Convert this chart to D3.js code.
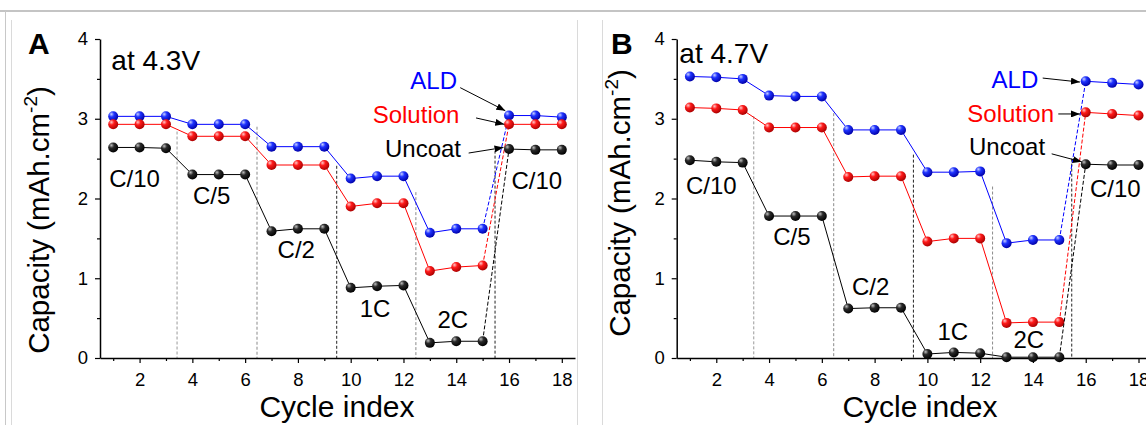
<!DOCTYPE html>
<html>
<head>
<meta charset="utf-8">
<script src="https://cdn.jsdelivr.net/npm/d3@7"></script>
<style>
body { margin: 0; background: #fff; }
svg { display: block; font-family: "Liberation Sans", Arial, sans-serif; }
</style>
</head>
<body>
<svg id="chart" width="1146" height="425"></svg>
<script>
// values
var cycles = [1, 2, 3, 4, 5, 6, 7, 8, 9, 10, 11, 12, 13, 14, 15, 16, 17, 18]

var aldA = [3.03, 3.03, 3.03, 2.93, 2.93, 2.93, 2.65, 2.65, 2.65, 2.25, 2.28, 2.28, 1.57, 1.62, 1.62, 3.04, 3.04, 3.02]
var solA = [2.93, 2.93, 2.93, 2.78, 2.78, 2.78, 2.42, 2.42, 2.42, 1.90, 1.94, 1.94, 1.09, 1.14, 1.16, 2.93, 2.93, 2.93]
var uncA = [2.64, 2.64, 2.63, 2.30, 2.30, 2.30, 1.59, 1.62, 1.62, 0.88, 0.90, 0.91, 0.19, 0.21, 0.21, 2.62, 2.61, 2.61]

var aldB = [3.53, 3.52, 3.50, 3.29, 3.28, 3.28, 2.86, 2.86, 2.86, 2.33, 2.33, 2.34, 1.44, 1.48, 1.48, 3.47, 3.45, 3.43]
var solB = [3.14, 3.13, 3.11, 2.89, 2.89, 2.89, 2.27, 2.28, 2.28, 1.46, 1.50, 1.50, 0.44, 0.45, 0.45, 3.08, 3.06, 3.04]
var uncB = [2.48, 2.46, 2.45, 1.78, 1.78, 1.78, 0.62, 0.63, 0.63, 0.05, 0.07, 0.06, 0.01, 0.01, 0.01, 2.43, 2.42, 2.42]

var xTicks = [2, 4, 6, 8, 10, 12, 14, 16, 18]
var xMinor = [1, 3, 5, 7, 9, 11, 13, 15, 17]
var yTicks = [0, 1, 2, 3, 4]
var yMinor = [0.5, 1.5, 2.5, 3.5]

// dashed separators between rate steps
var stepX = [3.42, 6.45, 9.47, 12.47, 15.47]
var stepTopA = [2.84, 2.90, 2.41, 2.08, 2.60]
var stepTopB = [3.03, 3.07, 2.55, 2.15, 2.50]
var stepColor = ['#9a9a9a', '#8a8a8a', '#222', '#8a8a8a', '#222']

// rate labels (x, y in data units, text start + baseline)
var rateNames = ['C/10', 'C/5', 'C/2', '1C', '2C', 'C/10']
var rateXA = [0.85, 4.02, 7.23, 10.34, 13.29, 16.09]
var rateYA = [2.15, 1.93, 1.25, 0.52, 0.37, 2.12]
var rateXB = [0.85, 4.16, 7.14, 10.38, 13.26, 16.16]
var rateYB = [2.06, 1.42, 0.79, 0.23, 0.12, 2.02]

// legend labels with arrows
var seriesNames = ['ALD', 'Solution', 'Uncoat']
var seriesColors = ['#0000ff', '#ff0000', '#000000']
var legXA = [14.03, 14.12, 14.18]
var legYA = [3.37, 2.95, 2.52]
var arrowA = [[14.15, 3.39, 15.86, 3.10], [14.75, 3.01, 15.82, 2.93], [14.47, 2.57, 15.79, 2.64]]
var legXB = [14.20, 14.80, 14.46]
var legYB = [3.38, 2.96, 2.55]
var arrowB = [[14.37, 3.51, 15.78, 3.46], [14.96, 3.06, 15.78, 3.06], [14.71, 2.56, 15.85, 2.46]]

var svg = d3.select('#chart')

// frame lines of the figure
svg.append('line').attr('x1', 0).attr('x2', 1146).attr('y1', 11).attr('y2', 11)
    .attr('stroke', '#c4c4c4').attr('stroke-width', 2)
var frameX = [5.5, 11.5, 577.5, 602.5]
svg.selectAll('line.frame')
    .data(frameX)
    .enter()
        .append('line')
        .attr('class', 'frame')
        .attr('x1', function(d) { return d; })
        .attr('x2', function(d) { return d; })
        .attr('y1', function(d, i) { return i == 0 ? 11 : 20; })
        .attr('y2', 425)
        .attr('stroke', function(d, i) { return i == 0 ? '#c8c8c8' : '#dadada'; })
        .attr('stroke-width', 1)

var defs = svg.append('defs')
var balls = [
    { id: 'ball0', hi: '#c8d0ff', mid: '#1f33ff', lo: '#0000a8' },
    { id: 'ball1', hi: '#ffc8c8', mid: '#ff1a1a', lo: '#aa0000' },
    { id: 'ball2', hi: '#c0c0c0', mid: '#2a2a2a', lo: '#000000' }
]
balls.forEach(function(b) {
    var g = defs.append('radialGradient').attr('id', b.id)
        .attr('cx', '35%').attr('cy', '32%').attr('r', '70%')
        .attr('fx', '32%').attr('fy', '28%')
    g.append('stop').attr('offset', '0%').attr('stop-color', b.hi)
    g.append('stop').attr('offset', '38%').attr('stop-color', b.mid)
    g.append('stop').attr('offset', '100%').attr('stop-color', b.lo)
})
defs.append('marker')
    .attr('id', 'arrowhead')
    .attr('markerWidth', 9)
    .attr('markerHeight', 7)
    .attr('refX', 9)
    .attr('refY', 3.5)
    .attr('orient', 'auto')
    .attr('markerUnits', 'userSpaceOnUse')
    .append('path')
        .attr('d', 'M0,0 L9,3.5 L0,7 z')
        .attr('fill', '#000')

function drawPanel(p) {
    var x = d3.scaleLinear().domain([0.5, 18.5]).range([p.left, p.left + 475])
    var y = d3.scaleLinear().domain([0, 4]).range([358, 39])
    var g = svg.append('g')

    // separators
    g.selectAll('line.step')
        .data(stepX)
        .enter()
            .append('line')
            .attr('class', 'step')
            .attr('x1', function(d) { return x(d); })
            .attr('x2', function(d) { return x(d); })
            .attr('y1', function(d, i) { return y(p.stepTop[i]); })
            .attr('y2', y(0))
            .attr('stroke', function(d, i) { return stepColor[i]; })
            .attr('stroke-width', 1)
            .attr('stroke-dasharray', '3,2')

    // minor ticks
    var xm = g.append('g').attr('transform', 'translate(0,' + y(0) + ')')
        .call(d3.axisBottom(x).tickValues(xMinor).tickSize(3).tickFormat(''))
    xm.select('.domain').remove()
    var ym = g.append('g').attr('transform', 'translate(' + x(0.5) + ',0)')
        .call(d3.axisLeft(y).tickValues(yMinor).tickSize(3).tickFormat(''))
    ym.select('.domain').remove()

    var xa = g.append('g').attr('transform', 'translate(0,' + y(0) + ')')
        .call(d3.axisBottom(x).tickValues(xTicks).tickSize(5).tickSizeOuter(0).tickPadding(10).tickFormat(d3.format('d')))
    var ya = g.append('g').attr('transform', 'translate(' + x(0.5) + ',0)')
        .call(d3.axisLeft(y).tickValues(yTicks).tickSize(5).tickSizeOuter(0).tickPadding(7).tickFormat(d3.format('d')))
    g.selectAll('.tick text').attr('font-size', 18.5).attr('font-family', '"Liberation Sans", Arial, sans-serif').attr('fill', '#000')
    g.selectAll('.domain').attr('stroke-width', 1.5)
    g.selectAll('.tick line').attr('stroke-width', 1.2)

    // series
    var lineGen = d3.line()
        .x(function(d) { return x(d[0]); })
        .y(function(d) { return y(d[1]); })
    p.series.forEach(function(vals, s) {
        var pts = cycles.map(function(c, i) { return [c, vals[i]]; })
        g.append('path')
            .attr('d', lineGen(pts.slice(0, 15)))
            .attr('fill', 'none').attr('stroke', seriesColors[s]).attr('stroke-width', 1)
        g.append('path')
            .attr('d', lineGen(pts.slice(14, 16)))
            .attr('fill', 'none').attr('stroke', seriesColors[s]).attr('stroke-width', 1)
            .attr('stroke-dasharray', '4,2')
        g.append('path')
            .attr('d', lineGen(pts.slice(15)))
            .attr('fill', 'none').attr('stroke', seriesColors[s]).attr('stroke-width', 1)
        g.selectAll('circle.s' + s)
            .data(pts)
            .enter()
                .append('circle')
                .attr('class', 's' + s)
                .attr('cx', function(d) { return x(d[0]); })
                .attr('cy', function(d) { return y(d[1]); })
                .attr('r', 5)
                .attr('fill', 'url(#ball' + s + ')')
    })

    // rate labels
    g.selectAll('text.rate')
        .data(rateNames)
        .enter()
            .append('text')
            .attr('class', 'rate')
            .attr('x', function(d, i) { return x(p.rateX[i]); })
            .attr('y', function(d, i) { return y(p.rateY[i]); })
            .attr('font-size', 24)
            .text(function(d) { return d; })

    // legend text + arrows
    g.selectAll('text.leg')
        .data(seriesNames)
        .enter()
            .append('text')
            .attr('class', 'leg')
            .attr('text-anchor', 'end')
            .attr('x', function(d, i) { return x(p.legX[i]); })
            .attr('y', function(d, i) { return y(p.legY[i]); })
            .attr('font-size', 24)
            .attr('fill', function(d, i) { return seriesColors[i]; })
            .text(function(d) { return d; })
    g.selectAll('line.arrow')
        .data(p.arrows)
        .enter()
            .append('line')
            .attr('class', 'arrow')
            .attr('x1', function(d) { return x(d[0]); })
            .attr('y1', function(d) { return y(d[1]); })
            .attr('x2', function(d) { return x(d[2]); })
            .attr('y2', function(d) { return y(d[3]); })
            .attr('stroke', '#000').attr('stroke-width', 1)
            .attr('marker-end', 'url(#arrowhead)')

    // titles
    g.append('text').attr('x', p.letterX).attr('y', 54)
        .attr('font-size', 30).attr('font-weight', 'bold').text(p.letter)
    g.append('text').attr('x', x(p.noteX)).attr('y', y(p.noteY))
        .attr('font-size', 28).text(p.note)
    g.append('text').attr('x', p.xlabX).attr('y', 417)
        .attr('text-anchor', 'middle').attr('font-size', 30).text('Cycle index')
    var yl = g.append('text')
        .attr('transform', 'translate(' + p.ylabX + ',' + p.ylabY + ') rotate(-90)')
        .attr('text-anchor', 'middle').attr('font-size', 29.5)
    yl.append('tspan').text('Capacity (mAh.cm')
    yl.append('tspan').attr('font-size', 19).attr('dy', -12).text('-2')
    yl.append('tspan').attr('dy', 12).text(')')
}

drawPanel({
    left: 100, letter: 'A', letterX: 28, note: 'at 4.3V', noteX: 0.93, noteY: 3.61,
    xlabX: 337, ylabX: 49, ylabY: 220,
    series: [aldA, solA, uncA], stepTop: stepTopA,
    rateX: rateXA, rateY: rateYA, legX: legXA, legY: legYA, arrows: arrowA
})
drawPanel({
    left: 676.7, letter: 'B', letterX: 611, note: 'at 4.7V', noteX: 0.60, noteY: 3.70,
    xlabX: 920, ylabX: 630, ylabY: 203,
    series: [aldB, solB, uncB], stepTop: stepTopB,
    rateX: rateXB, rateY: rateYB, legX: legXB, legY: legYB, arrows: arrowB
})
</script>
</body>
</html>
